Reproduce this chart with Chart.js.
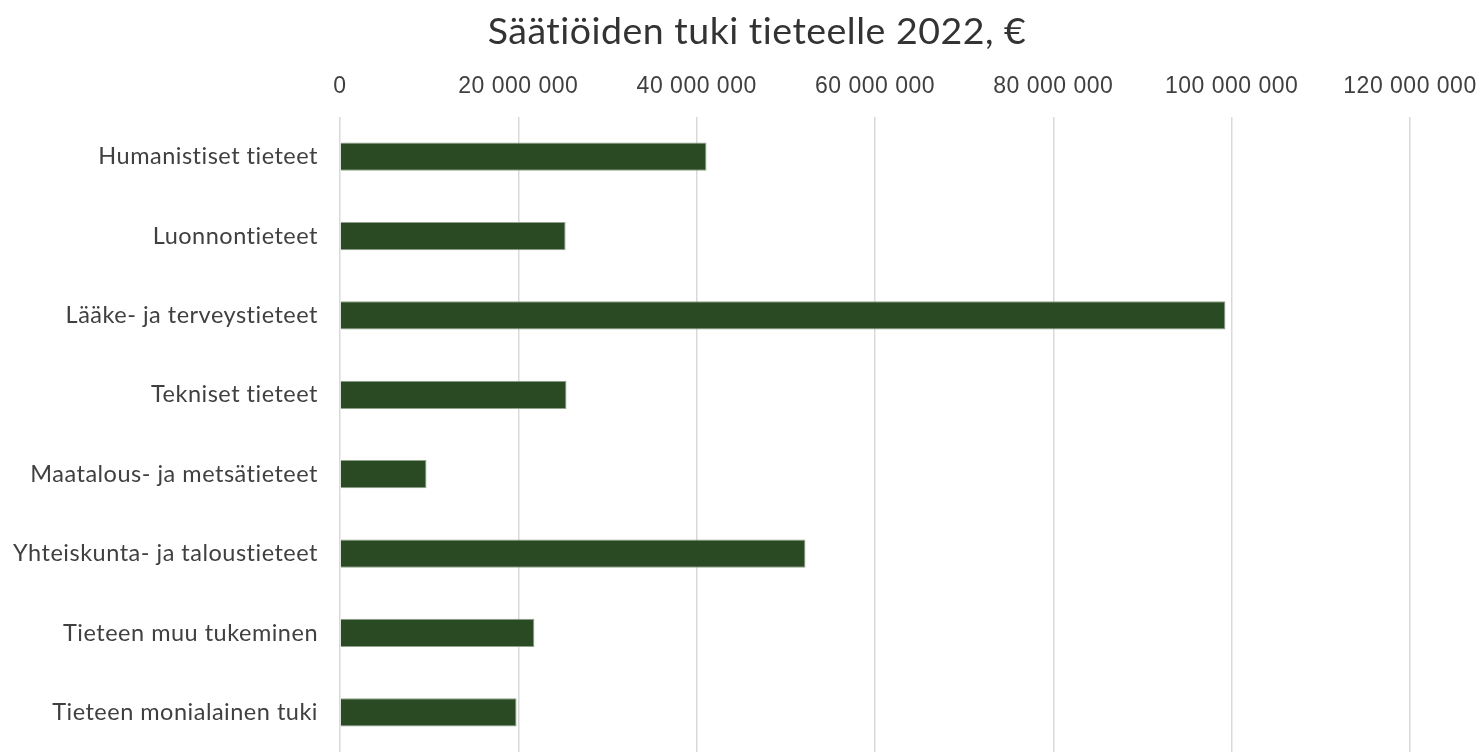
<!DOCTYPE html>
<html>
<head>
<meta charset="utf-8">
<script src="https://cdn.jsdelivr.net/npm/chart.js@4/dist/chart.umd.min.js"></script>
<style>
  html, body { margin: 0; padding: 0; background: #fff; overflow: hidden; }
  #chartTuki { display: block; }
</style>
</head>
<body>
<canvas id="chartTuki" width="1481" height="752"></canvas>
<script>
// data (euro)
var categories = [
    'Humanistiset tieteet',
    'Luonnontieteet',
    'Lääke- ja terveystieteet',
    'Tekniset tieteet',
    'Maatalous- ja metsätieteet',
    'Yhteiskunta- ja taloustieteet',
    'Tieteen muu tukeminen',
    'Tieteen monialainen tuki'
];
var tukiValues = [41100000, 25300000, 99300000, 25400000, 9700000, 52200000, 21800000, 19800000];
var tickValues = [0, 20000000, 40000000, 60000000, 80000000, 100000000, 120000000];
var chartTitle = 'Säätiöiden tuki tieteelle 2022, €';

function formatTick(value) {
    return String(value).replace(/\B(?=(\d{3})+(?!\d))/g, ' ');
}

// letter spacing for all text (also keeps Lato from joining "ti"),
// and the title, which sits a bit right of the canvas centre
function setSpacing(chart) {
    chart.ctx.letterSpacing = '0.5px';
}
var titlePlugin = {
    id: 'ownTitle',
    beforeUpdate: setSpacing,
    beforeDraw: setSpacing,
    afterDraw: function (chart) {
        var ctx = chart.ctx;
        ctx.save();
        ctx.font = '37.5px Lato';
        ctx.fillStyle = '#333333';
        ctx.textAlign = 'center';
        ctx.textBaseline = 'middle';
        ctx.fillText(chartTitle, 757, 32);
        ctx.restore();
    }
};

var chartEl = document.getElementById('chartTuki');
var myChart = new Chart(chartEl, {
    type: 'bar',
    plugins: [titlePlugin],
    data: {
        labels: categories,
        datasets: [{
            data: tukiValues,
            backgroundColor: '#2a4a24',
            borderColor: '#8fa38a',
            borderWidth: 1,
            barPercentage: 0.355,
            categoryPercentage: 1
        }]
    },
    options: {
        indexAxis: 'y',
        responsive: false,
        animation: false,
        layout: {
            padding: { left: 0, right: 71, top: 55, bottom: 0 }
        },
        plugins: {
            legend: { display: false },
            tooltip: { enabled: false },
            title: { display: false }
        },
        scales: {
            x: {
                position: 'top',
                min: 0,
                max: 120000000,
                afterBuildTicks: function (scale) {
                    scale.ticks = tickValues.map(function (v) { return { value: v }; });
                },
                afterFit: function (scale) {
                    scale.height = 62;
                    scale.paddingLeft = 0;
                    scale.paddingRight = 0;
                },
                grid: {
                    color: '#d9d9d9',
                    lineWidth: 1.5,
                    drawTicks: false
                },
                border: { display: false },
                ticks: {
                    padding: 17,
                    maxRotation: 0,
                    color: '#404040',
                    font: { family: 'Liberation Sans', size: 23 },
                    callback: function (value) { return formatTick(value); }
                }
            },
            y: {
                afterFit: function (scale) {
                    scale.width = 340;
                    scale.paddingTop = 0;
                    scale.paddingBottom = 0;
                },
                grid: { display: false, drawTicks: false },
                border: { display: false },
                ticks: {
                    padding: 22,
                    color: '#404040',
                    font: { family: 'Lato', size: 23.5 }
                }
            }
        }
    }
});
</script>
</body>
</html>
